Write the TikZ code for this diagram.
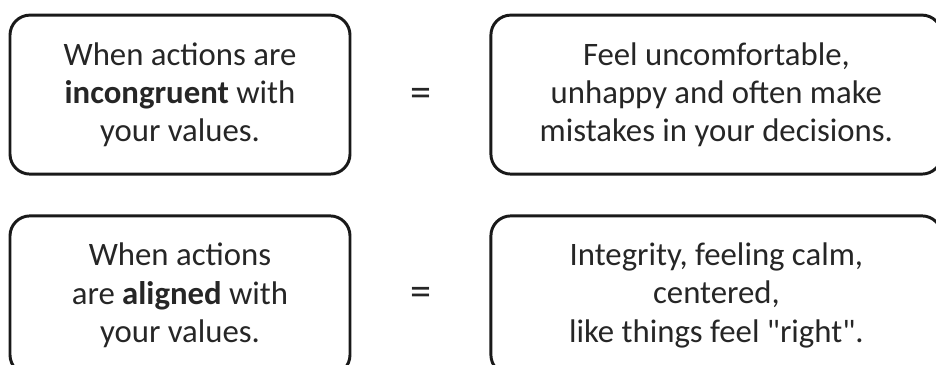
\documentclass[tikz,border=0pt]{standalone}
\usepackage{fontspec}
\setmainfont{Carlito}
\begin{document}
\begin{tikzpicture}[
    valuebox/.style={draw=black!90, line width=2.1pt, rounded corners=0.5cm,
      minimum height=3.975cm, align=center, text=black!85,
      font=\fontsize{23.3}{27.2}\selectfont},
    eqsign/.style={text=black!85, font=\fontsize{30}{30}\selectfont}
  ]
        \path[use as bounding box, clip] (0, 0) rectangle (23.4, 9.125);
        \node[valuebox, minimum width=8.5cm] (incong) at (4.5, 6.76)
          {When actions are\\\textbf{incongruent} with\\your values.};
        \node[eqsign] (eqtop) at (10.525, 6.7) {=};
        \node[valuebox, minimum width=11.275cm] (uncomf) at (17.91, 6.76)
          {Feel uncomfortable,\\unhappy and often make\\mistakes in your decisions.};
        \node[valuebox, minimum width=8.5cm] (aligned) at (4.5, 1.74)
          {When actions\\are \textbf{aligned} with\\your values.};
        \node[eqsign] (eqbot) at (10.525, 1.72) {=};
        \node[valuebox, minimum width=11.275cm] (integ) at (17.91, 1.74)
          {Integrity, feeling calm,\\centered,\\like things feel \textquotedbl right\textquotedbl.};
    \end{tikzpicture}
\end{document}
